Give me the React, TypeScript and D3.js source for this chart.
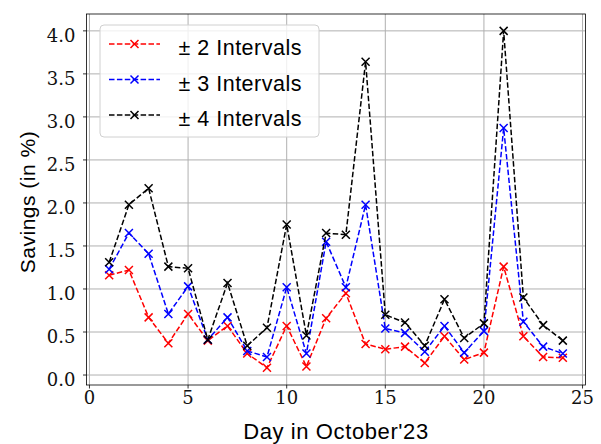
import React from "react";
import * as d3 from "d3";

const days = [1,2,3,4,5,6,7,8,9,10,11,12,13,14,15,16,17,18,19,20,21,22,23,24];
const twoIntervals = [1.16,1.22,0.67,0.37,0.71,0.40,0.57,0.25,0.085,0.57,0.10,0.66,0.95,0.36,0.30,0.33,0.14,0.45,0.18,0.26,1.26,0.45,0.21,0.20];
const threeIntervals = [1.23,1.65,1.41,0.71,1.03,0.41,0.67,0.28,0.21,1.02,0.25,1.55,1.02,1.98,0.54,0.49,0.27,0.57,0.26,0.51,2.87,0.62,0.33,0.25];
const fourIntervals = [1.31,1.98,2.17,1.26,1.24,0.41,1.07,0.34,0.55,1.75,0.46,1.65,1.63,3.64,0.70,0.61,0.34,0.88,0.43,0.60,4.00,0.90,0.58,0.40];
const seriesNames = ["\u00b1 2 Intervals", "\u00b1 3 Intervals", "\u00b1 4 Intervals"];
const seriesColors = ["#ff0000", "#0000ff", "#000000"];
const xTicks = [0,5,10,15,20,25];
const yTicks = [0,0.5,1,1.5,2,2.5,3,3.5,4];

const W = 601, H = 444;
const L = 86.5, R = 585.5, T = 14, B = 385;
const serif = "'DejaVu Serif', 'Liberation Serif', serif";
const sans = "'Liberation Sans', 'DejaVu Sans', sans-serif";

export default function App() {
  const x = d3.scaleLinear().domain([-0.15, 25.15]).range([L, R]);
  const y = d3.scaleLinear().domain([-0.116, 4.196]).range([B, T]);
  const all = [twoIntervals, threeIntervals, fourIntervals];
  const line = d3.line<number>().x((_, i) => x(days[i])).y(d => y(d));
  const ms = 4;
  const marker = (cx: number, cy: number, c: string, k: string) => (
    <path key={k} d={`M${cx-ms},${cy-ms}L${cx+ms},${cy+ms}M${cx-ms},${cy+ms}L${cx+ms},${cy-ms}`} stroke={c} strokeWidth={1.5} fill="none" />
  );
  return (
    <svg width={W} height={H} style={{ position: "absolute", left: 0, top: 0, background: "#fff" }}>
      <rect x={0} y={0} width={W} height={H} fill="#fff" />
      {xTicks.map(t => (
        <line key={"gx"+t} x1={x(t)} x2={x(t)} y1={T} y2={B} stroke="#b0b0b0" strokeWidth={1} />
      ))}
      {yTicks.map(t => (
        <line key={"gy"+t} x1={L} x2={R} y1={y(t)} y2={y(t)} stroke="#b0b0b0" strokeWidth={1} />
      ))}
      {all.map((s, si) => (
        <g key={"s"+si}>
          <path d={line(s) || ""} fill="none" stroke={seriesColors[si]} strokeWidth={1.5} strokeDasharray="5.5,2.4" />
          {s.map((v, i) => marker(x(days[i]), y(v), seriesColors[si], `m${si}-${i}`))}
        </g>
      ))}
      <rect x={L} y={T} width={R-L} height={B-T} fill="none" stroke="#000" strokeWidth={0.8} />
      {xTicks.map(t => (
        <g key={"tx"+t}>
          <line x1={x(t)} x2={x(t)} y1={B} y2={B+3.5} stroke="#000" strokeWidth={0.8} />
          <text x={x(t)} y={B+19} textAnchor="middle" fontFamily={serif} fontSize={18} fill="#111">{t}</text>
        </g>
      ))}
      {yTicks.map(t => (
        <g key={"ty"+t}>
          <line x1={L-3.5} x2={L} y1={y(t)} y2={y(t)} stroke="#000" strokeWidth={0.8} />
          <text x={L-11} y={y(t)+11} textAnchor="end" fontFamily={serif} fontSize={18} fill="#111">{t.toFixed(1)}</text>
        </g>
      ))}
      <text x={(L+R)/2} y={439} textAnchor="middle" fontFamily={sans} fontSize={22} letterSpacing={0.6} fill="#000">Day in October'23</text>
      <text transform={`translate(34.5,202) rotate(-90)`} textAnchor="middle" fontFamily={sans} fontSize={21} letterSpacing={0.5} fill="#000">Savings (in %)</text>
      <rect x={100} y={25} width={219} height={112} rx={4} fill="#fff" fillOpacity={0.8} stroke="#d0d0d0" strokeWidth={1} />
      {seriesNames.map((n, i) => {
        const ly = 44 + i * 35.5;
        return (
          <g key={"lg"+i}>
            <line x1={109} x2={160} y1={ly} y2={ly} stroke={seriesColors[i]} strokeWidth={1.5} strokeDasharray="5.5,2.4" />
            {marker(134.5, ly, seriesColors[i], "lm"+i)}
            <text x={178.5} y={ly+11} fontFamily={sans} fontSize={21.5} letterSpacing={0.5} fill="#000">{n}</text>
          </g>
        );
      })}
    </svg>
  );
}
